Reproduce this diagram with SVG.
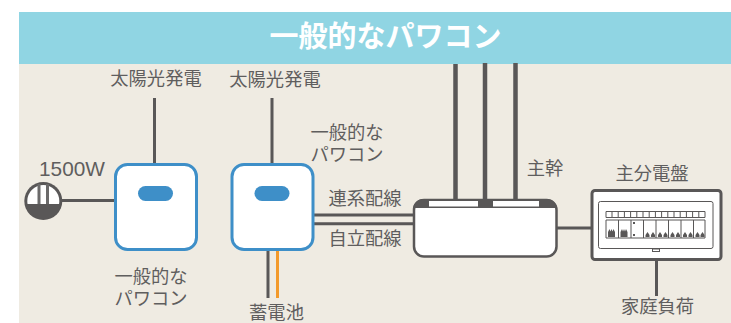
<svg xmlns="http://www.w3.org/2000/svg" width="731" height="323" viewBox="0 0 731 323">
<defs><clipPath id="top"><rect x="20" y="180" width="50" height="24"/></clipPath></defs>
<style>
text{font-family:"Noto Sans CJK JP","Liberation Sans",sans-serif;font-size:18.300px;fill:#5f5e5e;text-anchor:middle}
.w{stroke:#595757;stroke-width:3;fill:none}
.m{stroke:#595757;stroke-width:4.500;fill:none}
.pcs{fill:#fff;stroke:#3e8fc8;stroke-width:3}
.pill{fill:#3e8fc8}
.p{fill:#fff;stroke:#595757;stroke-width:1}
.b{fill:#595757}
</style>
<rect x="19" y="64" width="712" height="259" fill="#efebe2"/>
<rect x="19" y="12" width="712" height="52" fill="#90d5e3"/>
<text x="385.500" y="47" style="font-size:29px;font-weight:700;fill:#fff">一般的なパワコン</text>
<g id="connectors">
<path class="w" d="M154.500 98V164M272 98V164M61 200.500H115M313 215H413M313 223.800H413M268 250V298M557 228H591M656.500 260V296"/>
<path class="m" d="M455.500 64V199M485 63V199M515.500 63V199"/>
<path d="M277.500 250V298" fill="none" stroke="#f39a2b" stroke-width="3"/>
</g>
<g id="outlet">
<circle cx="43.300" cy="201" r="19" class="b"/>
<circle cx="43.300" cy="201" r="16" fill="#fff" clip-path="url(#top)"/>
<path d="M37.500 184h3v20h-3ZM46 184h3v20h-3Z" fill="#6b6a6a"/>
<text x="72" y="176" style="font-size:20.800px;font-family:'Liberation Sans',sans-serif">1500W</text>
</g>
<g id="pcs1">
<rect x="115.500" y="164.500" width="81" height="85" rx="12" class="pcs"/>
<rect x="138" y="186" width="35" height="15" rx="7.500" class="pill"/>
<text x="151" y="283">一般的な<tspan x="151" dy="22">パワコン</tspan></text>
</g>
<g id="pcs2">
<rect x="232" y="164.500" width="81" height="85" rx="12" class="pcs"/>
<rect x="254.500" y="186" width="35" height="15" rx="7.500" class="pill"/>
<text x="347" y="139">一般的な<tspan x="347" dy="22">パワコン</tspan></text>
</g>
<text x="156" y="85">太陽光発電</text>
<text x="275" y="86">太陽光発電</text>
<text x="365" y="205">連系配線</text>
<text x="365" y="245">自立配線</text>
<text x="276.500" y="319">蓄電池</text>
<text x="545" y="174.500">主幹</text>
<text x="652" y="180">主分電盤</text>
<text x="657.500" y="313">家庭負荷</text>
<g id="meter">
<rect x="414" y="200" width="142.500" height="56.500" rx="10" fill="#fff" stroke="#595757" stroke-width="2.500"/>
<path d="M413 208a10 10 0 0 1 9-9H548a10 10 0 0 1 9 9Z" class="b"/>
<rect x="429" y="201" width="49" height="5.500" fill="#fff"/>
<rect x="493" y="201" width="46" height="5.500" fill="#fff"/>
</g>
<g id="panel">
<rect x="592" y="190.500" width="129" height="69" rx="3" fill="#fff" stroke="#595757" stroke-width="3"/>
<rect x="598.500" y="201.500" width="114.500" height="47" rx="2" fill="#fff" stroke="#595757"/>
<rect x="652.500" y="249" width="7" height="2.500" class="p"/>
<path d="M606 211.500H705V217.500H606ZM612 211.500V217.500M618.200 211.500V217.500M624.400 211.500V217.500M630.600 211.500V217.500M636.800 211.500V217.500M643 211.500V217.500M649.200 211.500V217.500M655.400 211.500V217.500M661.600 211.500V217.500M667.800 211.500V217.500M674 211.500V217.500M680.200 211.500V217.500M686.400 211.500V217.500M692.600 211.500V217.500M698.800 211.500V217.500M606 220H705V238H606ZM618.500 220V238M631 220V238M643.500 220V238M656 220V238M668.500 220V238M681 220V238M693.500 220V238" fill="#fff" stroke="#595757" stroke-width="1"/>
<path class="b" d="M608 237v-5l1.500-3 1 2.500 1-2.500 1 2.500 1-2.500 1.500 3v5ZM620.500 237v-5l1.500-3 1 2.500 1-2.500 1 2.500 1-2.500 1.500 3v5ZM645.500 237v-2l2-3 2 3v2ZM651 237v-2l2-3 2 3v2ZM658 237v-2l2-3 2 3v2ZM663.500 237v-2l2-3 2 3v2ZM670.500 237v-2l2-3 2 3v2ZM676 237v-2l2-3 2 3v2ZM683 237v-2l2-3 2 3v2ZM688.500 237v-2l2-3 2 3v2ZM695.500 237v-2l2-3 2 3v2ZM700.500 237v-2l2-3 2 3v2ZM633 222h2v2h-2ZM633 234h2v2h-2Z"/>
</g>
</svg>
